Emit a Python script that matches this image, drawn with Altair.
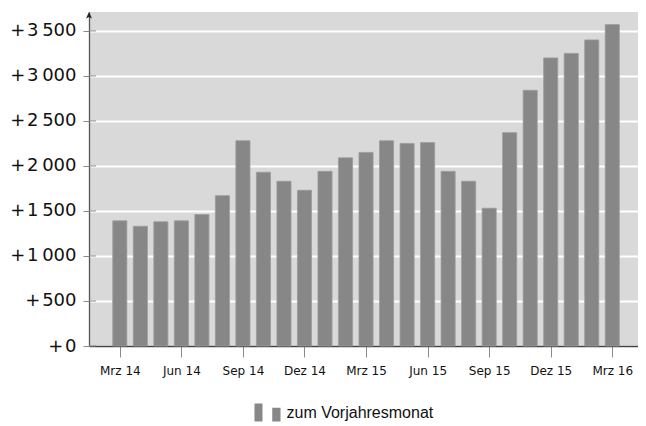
import json
import altair as alt
import pandas as pd

months = ["Mrz 14", "Apr 14", "Mai 14", "Jun 14", "Jul 14", "Aug 14", "Sep 14",
          "Okt 14", "Nov 14", "Dez 14", "Jan 15", "Feb 15", "Mrz 15", "Apr 15",
          "Mai 15", "Jun 15", "Jul 15", "Aug 15", "Sep 15", "Okt 15", "Nov 15",
          "Dez 15", "Jan 16", "Feb 16", "Mrz 16"]
values = [1390, 1330, 1380, 1390, 1460, 1670, 2280, 1930, 1830, 1730, 1940, 2090,
          2150, 2280, 2250, 2260, 1940, 1830, 1530, 2370, 2840, 3200, 3250, 3400, 3570]
series_name = "zum Vorjahresmonat"
y_ticks = [0, 500, 1000, 1500, 2000, 2500, 3000, 3500]
x_ticks = [0, 3, 6, 9, 12, 15, 18, 21, 24]
y_max = 3710

df = pd.DataFrame({"idx": list(range(len(months))), "month": months,
                   "value": values, "series": series_name})
ticks_df = pd.DataFrame({"t": y_ticks})

xscale = alt.Scale(domain=[-1.258, 25.01], nice=False, zero=False)
yscale = alt.Scale(domain=[0, y_max], nice=False)

label_expr_x = json.dumps(months) + "[datum.value]"
label_expr_y = "'+\u200a' + replace(format(datum.value, ','), ',', '\u2009')"

legend_symbol = "M-1.37,-0.95H-0.53V0.95H-1.37Z M0.5,-0.49H1.37V0.95H0.5Z"

bars = alt.Chart(df).mark_bar(size=14.1, stroke="#9c9c9c", strokeWidth=0.8).encode(
    x=alt.X("idx:Q", scale=xscale, title=None,
            axis=alt.Axis(values=x_ticks, labelExpr=label_expr_x, grid=False,
                          domainColor="#444444", domainWidth=1.3,
                          tickColor="#8a8a8a", tickSize=11, tickWidth=1,
                          labelFont="DejaVu Sans", labelFontSize=12,
                          labelColor="#111111", labelPadding=8)),
    y=alt.Y("value:Q", scale=yscale, title=None,
            axis=alt.Axis(values=y_ticks, labelExpr=label_expr_y, grid=True,
                          gridColor="#ffffff", gridWidth=2,
                          domainColor="#555555", domainWidth=1.3,
                          tickColor="#8a8a8a", tickSize=6, tickWidth=1,
                          labelFont="DejaVu Sans", labelFontSize=18,
                          labelColor="#111111", labelPadding=7)),
    color=alt.Color("series:N", scale=alt.Scale(range=["#878787"]),
                    legend=alt.Legend(title=None, orient="none",
                                      legendX=169, legendY=391,
                                      symbolType=legend_symbol, symbolSize=361,
                                      symbolStrokeWidth=0, labelOffset=9.5,
                                      labelFont="Liberation Sans", labelFontSize=16,
                                      labelColor="#111111", padding=0)),
)

inner_ticks = alt.Chart(ticks_df).mark_rule(color="#8a8a8a", strokeWidth=1).encode(
    y=alt.Y("t:Q", scale=yscale),
    x=alt.value(0),
    x2=alt.value(7),
)

arrow = alt.Chart(pd.DataFrame({"top": [y_max]})).mark_point(
    shape="M0,0L-0.6,1.3L0,1L0.6,1.3Z", size=100, filled=True,
    color="#222222", opacity=1, strokeWidth=0).encode(
    y=alt.Y("top:Q", scale=yscale),
    x=alt.value(0),
)

chart = alt.layer(bars, inner_ticks, arrow).properties(
    width=549, height=334,
    padding={"left": 81, "top": 4, "right": 0, "bottom": 78},
    autosize=alt.AutoSizeParams(type="none"),
).configure_view(fill="#d9d9d9", stroke=None)

chart.save("out.html", embed_options={"renderer": "svg", "actions": False})
